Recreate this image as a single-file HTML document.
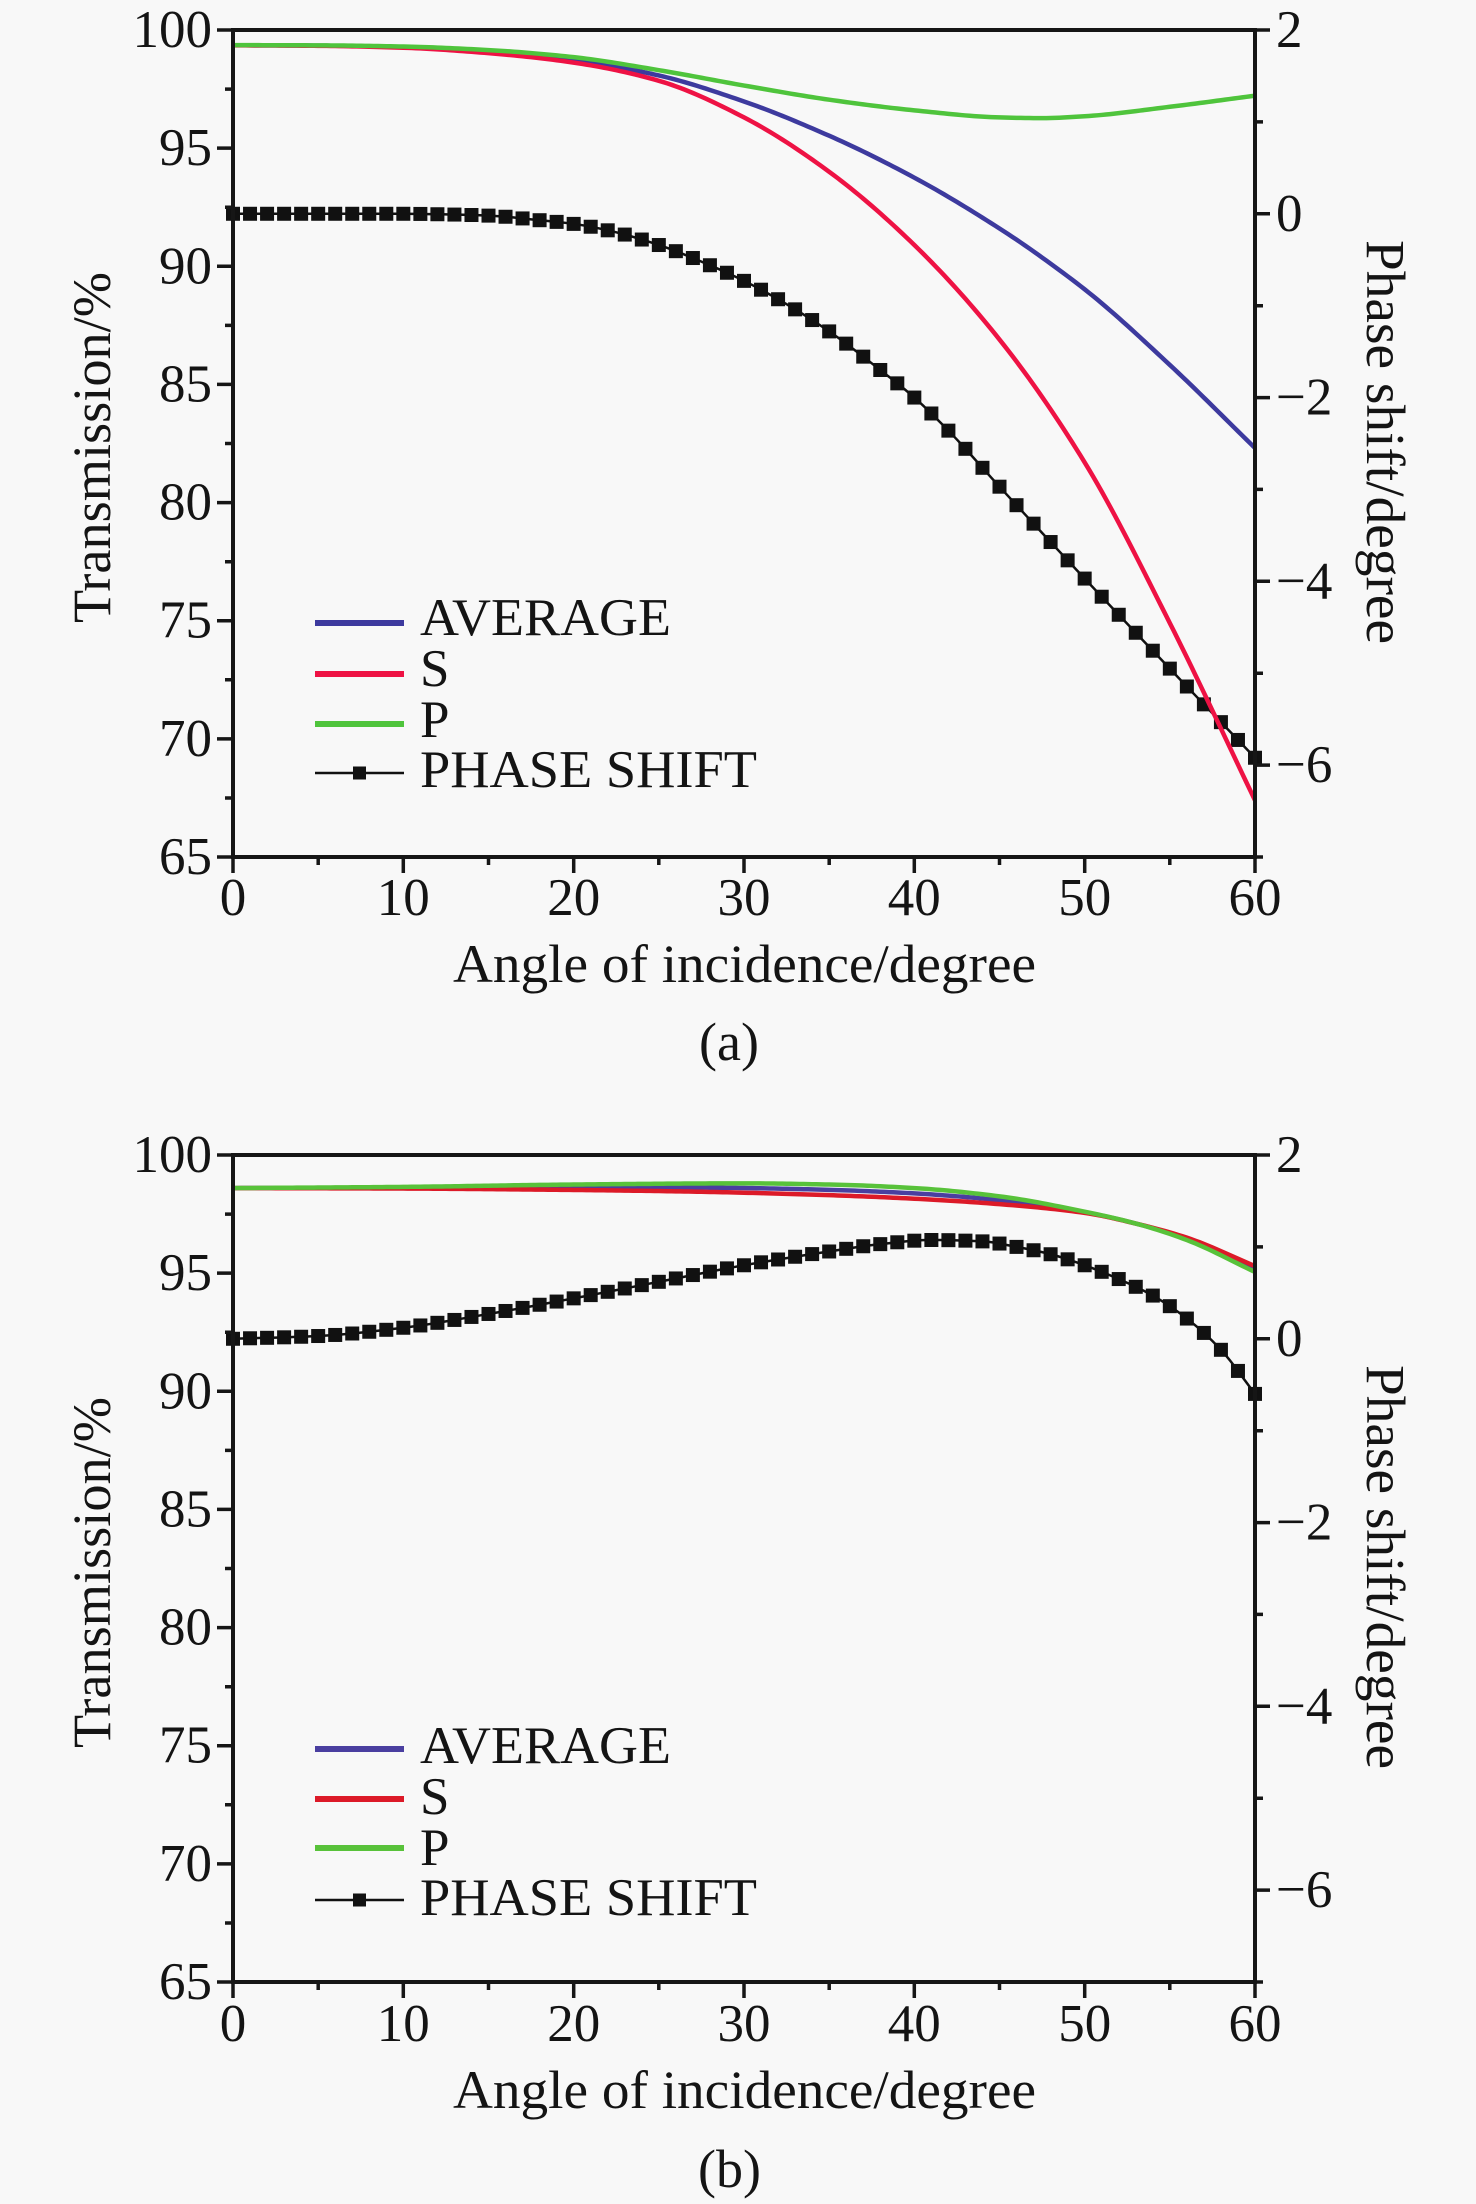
<!DOCTYPE html>
<html><head><meta charset="utf-8">
<style>
html,body{margin:0;padding:0;background:#f8f8f8;}
svg{display:block;}
text{font-family:"Liberation Serif","Times New Roman",serif;fill:#141414;}
</style></head>
<body>
<svg id="svg" width="1476" height="2204" viewBox="0 0 1476 2204" xmlns="http://www.w3.org/2000/svg">
<rect width="1476" height="2204" fill="#f8f8f8"/>

<!-- ============ CHART A ============ -->
<g id="chartA">
  <g id="seriesA"></g>
  <g fill="none" stroke="#161616" stroke-width="3.5">
    <rect x="233" y="30" width="1022" height="827" stroke-width="4"/>
    <path d="M217 30H233 M217 148.15H233 M217 266.3H233 M217 384.4H233 M217 502.6H233 M217 620.7H233 M217 738.9H233 M217 857H233"/>
    <path d="M225 89.07H233 M225 207.2H233 M225 325.4H233 M225 443.5H233 M225 561.7H233 M225 679.8H233 M225 798H233"/>
    <path d="M1255 30H1270 M1255 213.8H1270 M1255 397.6H1270 M1255 581.3H1270 M1255 765.1H1270"/>
    <path d="M1255 121.9H1263 M1255 305.7H1263 M1255 489.4H1263 M1255 673.2H1263 M1255 857H1263"/>
    <path d="M233 857V873 M403.3 857V873 M573.7 857V873 M744 857V873 M914.3 857V873 M1084.7 857V873 M1255 857V873"/>
    <path d="M318.2 857V865 M488.5 857V865 M658.8 857V865 M829.2 857V865 M999.5 857V865 M1169.8 857V865"/>
  </g>
  <g font-size="53" text-anchor="end">
    <text x="212" y="47">100</text>
    <text x="212" y="165.2">95</text>
    <text x="212" y="283.3">90</text>
    <text x="212" y="401.4">85</text>
    <text x="212" y="519.6">80</text>
    <text x="212" y="637.7">75</text>
    <text x="212" y="755.9">70</text>
    <text x="212" y="874">65</text>
  </g>
  <g font-size="53" text-anchor="start">
    <text x="1276" y="47">2</text>
    <text x="1276" y="230.8">0</text>
    <text x="1276" y="414.6">−2</text>
    <text x="1276" y="598.3">−4</text>
    <text x="1276" y="782.1">−6</text>
  </g>
  <g font-size="53" text-anchor="middle">
    <text x="233" y="915">0</text>
    <text x="403.3" y="915">10</text>
    <text x="573.7" y="915">20</text>
    <text x="744" y="915">30</text>
    <text x="914.3" y="915">40</text>
    <text x="1084.7" y="915">50</text>
    <text x="1255" y="915">60</text>
  </g>
  <text x="744.5" y="982" font-size="54" text-anchor="middle" textLength="583" lengthAdjust="spacingAndGlyphs">Angle of incidence/degree</text>
  <text x="729" y="1060" font-size="54" text-anchor="middle">(a)</text>
  <text transform="translate(110,447.5) rotate(-90)" font-size="54" text-anchor="middle" textLength="351" lengthAdjust="spacingAndGlyphs">Transmission/%</text>
  <text transform="translate(1367,442) rotate(90)" font-size="55" text-anchor="middle" textLength="404" lengthAdjust="spacingAndGlyphs">Phase shift/degree</text>
  <g>
    <line x1="315" y1="623" x2="404" y2="623" stroke="#3d3a9e" stroke-width="6"/>
    <line x1="315" y1="674" x2="404" y2="674" stroke="#ee1244" stroke-width="6"/>
    <line x1="315" y1="724" x2="404" y2="724" stroke="#4fc43c" stroke-width="6"/>
    <line x1="315" y1="773" x2="404" y2="773" stroke="#111" stroke-width="2.5"/>
    <rect x="353" y="766.5" width="13" height="13" fill="#111"/>
    <g font-size="53">
      <text x="420" y="635" textLength="251" lengthAdjust="spacingAndGlyphs">AVERAGE</text>
      <text x="420" y="686">S</text>
      <text x="420" y="737">P</text>
      <text x="420" y="787" textLength="337" lengthAdjust="spacingAndGlyphs">PHASE SHIFT</text>
    </g>
  </g>
</g>

<!-- ============ CHART B ============ -->
<g id="chartB" transform="translate(0,1125)">
  <g id="seriesB"></g>
  <g fill="none" stroke="#161616" stroke-width="3.5">
    <rect x="233" y="30" width="1022" height="827" stroke-width="4"/>
    <path d="M217 30H233 M217 148.15H233 M217 266.3H233 M217 384.4H233 M217 502.6H233 M217 620.7H233 M217 738.9H233 M217 857H233"/>
    <path d="M225 89.07H233 M225 207.2H233 M225 325.4H233 M225 443.5H233 M225 561.7H233 M225 679.8H233 M225 798H233"/>
    <path d="M1255 30H1270 M1255 213.8H1270 M1255 397.6H1270 M1255 581.3H1270 M1255 765.1H1270"/>
    <path d="M1255 121.9H1263 M1255 305.7H1263 M1255 489.4H1263 M1255 673.2H1263 M1255 857H1263"/>
    <path d="M233 857V873 M403.3 857V873 M573.7 857V873 M744 857V873 M914.3 857V873 M1084.7 857V873 M1255 857V873"/>
    <path d="M318.2 857V865 M488.5 857V865 M658.8 857V865 M829.2 857V865 M999.5 857V865 M1169.8 857V865"/>
  </g>
  <g font-size="53" text-anchor="end">
    <text x="212" y="47">100</text>
    <text x="212" y="165.2">95</text>
    <text x="212" y="283.3">90</text>
    <text x="212" y="401.4">85</text>
    <text x="212" y="519.6">80</text>
    <text x="212" y="637.7">75</text>
    <text x="212" y="755.9">70</text>
    <text x="212" y="874">65</text>
  </g>
  <g font-size="53" text-anchor="start">
    <text x="1276" y="47">2</text>
    <text x="1276" y="230.8">0</text>
    <text x="1276" y="414.6">−2</text>
    <text x="1276" y="598.3">−4</text>
    <text x="1276" y="782.1">−6</text>
  </g>
  <g font-size="53" text-anchor="middle">
    <text x="233" y="916">0</text>
    <text x="403.3" y="916">10</text>
    <text x="573.7" y="916">20</text>
    <text x="744" y="916">30</text>
    <text x="914.3" y="916">40</text>
    <text x="1084.7" y="916">50</text>
    <text x="1255" y="916">60</text>
  </g>
  <text x="744.5" y="983" font-size="54" text-anchor="middle" textLength="583" lengthAdjust="spacingAndGlyphs">Angle of incidence/degree</text>
  <text x="729.5" y="1062" font-size="54" text-anchor="middle">(b)</text>
  <text transform="translate(110,447.5) rotate(-90)" font-size="54" text-anchor="middle" textLength="351" lengthAdjust="spacingAndGlyphs">Transmission/%</text>
  <text transform="translate(1367,442) rotate(90)" font-size="55" text-anchor="middle" textLength="404" lengthAdjust="spacingAndGlyphs">Phase shift/degree</text>
  <g>
    <line x1="315" y1="624" x2="404" y2="624" stroke="#4a3fa0" stroke-width="6"/>
    <line x1="315" y1="674" x2="404" y2="674" stroke="#dc1a28" stroke-width="6"/>
    <line x1="315" y1="723" x2="404" y2="723" stroke="#58c23a" stroke-width="6"/>
    <line x1="315" y1="775" x2="404" y2="775" stroke="#111" stroke-width="2.5"/>
    <rect x="353" y="768.5" width="13" height="13" fill="#111"/>
    <g font-size="53">
      <text x="420" y="638" textLength="251" lengthAdjust="spacingAndGlyphs">AVERAGE</text>
      <text x="420" y="689">S</text>
      <text x="420" y="740">P</text>
      <text x="420" y="790" textLength="337" lengthAdjust="spacingAndGlyphs">PHASE SHIFT</text>
    </g>
  </g>
</g>
</svg>

<script>
(function(){
  var NS="http://www.w3.org/2000/svg";
  function mono(pts){
    var n=pts.length,xs=[],ys=[],d=[],m=[],i;
    for(i=0;i<n;i++){xs.push(pts[i][0]);ys.push(pts[i][1]);}
    for(i=0;i<n-1;i++)d.push((ys[i+1]-ys[i])/(xs[i+1]-xs[i]));
    m[0]=d[0];m[n-1]=d[n-2];
    for(i=1;i<n-1;i++){
      if(d[i-1]*d[i]<=0)m[i]=0;
      else{
        var h0=xs[i]-xs[i-1],h1=xs[i+1]-xs[i];
        var w1=2*h1+h0,w2=h1+2*h0;
        m[i]=(w1+w2)/(w1/d[i-1]+w2/d[i]);
      }
    }
    return function(x){
      var k=0;while(k<n-2&&x>xs[k+1])k++;
      var h=xs[k+1]-xs[k],t=(x-xs[k])/h,t2=t*t,t3=t2*t;
      return (2*t3-3*t2+1)*ys[k]+(t3-2*t2+t)*h*m[k]+(-2*t3+3*t2)*ys[k+1]+(t3-t2)*h*m[k+1];
    };
  }
  function X(a){return 233+a*1022/60;}
  function YT(t){return 30+(100-t)*827/35;}
  function YP(p){return 30+(2-p)*827/9;}
  function el(tag,attrs,parent){var e=document.createElementNS(NS,tag);for(var k in attrs)e.setAttribute(k,attrs[k]);parent.appendChild(e);return e;}
  function curve(f,yf){
    var s="";for(var a=0;a<=60.0001;a+=0.25){s+=(a===0?"M":"L")+X(a).toFixed(2)+" "+yf(f(a)).toFixed(2);}
    return s;
  }
  function draw(gid,S,P,PH,colors){
    var g=document.getElementById(gid);
    var fS=mono(S),fP=mono(P),fPH=mono(PH);
    var fA=function(a){return (fS(a)+fP(a))/2;};
    el("path",{d:curve(fPH,YP),fill:"none",stroke:"#111","stroke-width":"2.5"},g);
    for(var a=0;a<=60;a++){
      var cx=X(a),cy=YP(fPH(a));
      el("rect",{x:(cx-7).toFixed(2),y:(cy-7).toFixed(2),width:"14",height:"14",fill:"#111"},g);
    }
    el("path",{d:curve(fA,YT),fill:"none",stroke:colors[0],"stroke-width":"4.5","stroke-linejoin":"round"},g);
    el("path",{d:curve(fS,YT),fill:"none",stroke:colors[1],"stroke-width":"4.5","stroke-linejoin":"round"},g);
    el("path",{d:curve(fP,YT),fill:"none",stroke:colors[2],"stroke-width":"4.5","stroke-linejoin":"round"},g);
  }
  var SA=[[0,99.35],[5,99.33],[10,99.25],[15,99.02],[20,98.62],[25,97.85],[30,96.3],[35,94.0],[40,90.9],[45,86.9],[50,81.7],[55,74.9],[60,67.4]];
  var PA=[[0,99.36],[5,99.35],[10,99.3],[15,99.15],[20,98.85],[25,98.3],[30,97.65],[35,97.05],[40,96.6],[45,96.3],[47.5,96.27],[50,96.35],[55,96.75],[60,97.22]];
  var PHA=[[0,0],[5,0],[10,0],[12,-0.005],[15,-0.02],[18,-0.07],[20,-0.11],[22,-0.18],[25,-0.34],[28,-0.56],[30,-0.73],[32,-0.93],[35,-1.28],[38,-1.7],[40,-2.0],[42,-2.36],[45,-2.97],[50,-3.97],[55,-4.95],[60,-5.92]];
  draw("seriesA",SA,PA,PHA,["#3d3a9e","#ee1244","#4fc43c"]);
  var SB=[[0,98.6],[10,98.58],[20,98.52],[27,98.45],[35,98.3],[40,98.15],[45,97.92],[50,97.55],[53,97.1],[56,96.5],[60,95.3]];
  var PB=[[0,98.6],[10,98.65],[20,98.75],[30,98.8],[35,98.75],[40,98.6],[45,98.25],[50,97.6],[53,97.1],[56,96.4],[60,95.05]];
  var PHB=[[0,0],[5,0.03],[10,0.12],[15,0.27],[20,0.44],[25,0.62],[30,0.8],[35,0.95],[38,1.03],[41,1.075],[44,1.06],[46,1.0],[48,0.92],[50,0.8],[52,0.65],[54,0.47],[56,0.22],[58,-0.12],[60,-0.6]];
  draw("seriesB",SB,PB,PHB,["#4a3fa0","#dc1a28","#58c23a"]);
})();
</script>
</body></html>
